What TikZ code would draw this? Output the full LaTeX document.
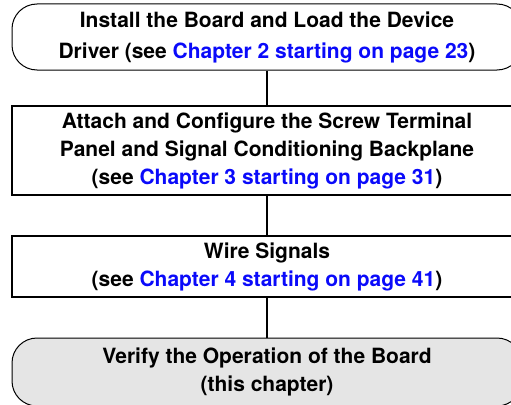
\documentclass[tikz,border=0pt]{standalone}
\usepackage{fontspec}
\setmainfont{TeX Gyre Heros}
\definecolor{chapblue}{RGB}{10,10,250}
\definecolor{endgray}{RGB}{229,229,229}
\newcommand{\chref}[1]{\textcolor{chapblue}{#1}}
\begin{document}
\begin{tikzpicture}[x=1pt, y=-1pt,
    every node/.style={align=center, font=\fontsize{21pt}{28pt}\selectfont\bfseries},
    termbox/.style={draw, line width=1pt, rounded corners=25pt, minimum width=510pt, inner sep=0pt},
    stepbox/.style={draw, line width=2pt, minimum width=510pt, inner sep=0pt},
    flowline/.style={line width=1.6pt}]
    \useasboundingbox (0,0) rectangle (511,404);
    \clip (0,0) rectangle (511,404);
    \node[termbox, minimum height=66pt] (install) at (267,37) {Install the Board and Load the Device\\[3pt]Driver (see \chref{Chapter 2 starting on page 23})};
    \node[stepbox, minimum height=89pt] (attach) at (267,150.5) {Attach and Configure the Screw Terminal\\Panel and Signal Conditioning Backplane\\(see \chref{Chapter 3 starting on page 31})};
    \node[stepbox, minimum height=61pt] (wire) at (267,266.5) {Wire Signals\\(see \chref{Chapter 4 starting on page 41})};
    \node[termbox, fill=endgray, minimum height=68pt] (verify) at (267,372) {Verify the Operation of the Board\\(this chapter)};
    \draw[flowline] (install) -- (attach);
    \draw[flowline] (attach) -- (wire);
    \draw[flowline] (wire) -- (verify);
\end{tikzpicture}
\end{document}
